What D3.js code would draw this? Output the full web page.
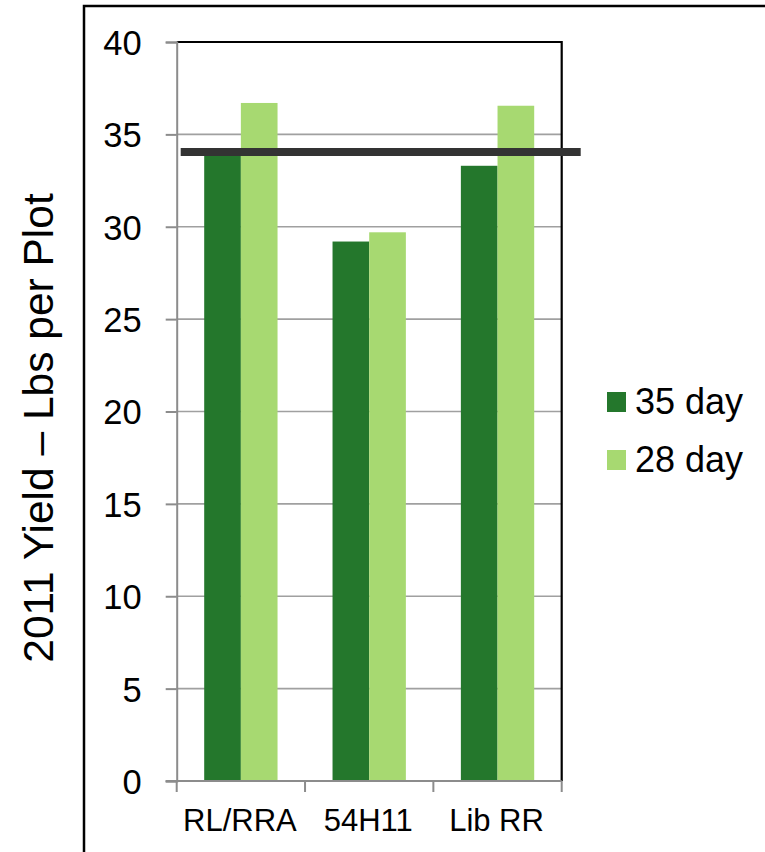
<!DOCTYPE html>
<html>
<head>
<meta charset="utf-8">
<script src="https://cdn.jsdelivr.net/npm/d3@7"></script>
<style>
  html, body { margin: 0; padding: 0; background: #fff; }
  svg { display: block; font-family: Arial, "Liberation Sans", sans-serif; }
</style>
</head>
<body>
<svg id="chart" width="765" height="852"></svg>
<script>
// Yield per plot by variety and harvest interval
const categories = ["RL/RRA", "54H11", "Lib RR"];
const seriesNames = ["35 day", "28 day"];
const values35 = [34.0, 29.2, 33.3];
const values28 = [36.7, 29.7, 36.55];
const targetYield = 34.05;
const yTicks = [0, 5, 10, 15, 20, 25, 30, 35, 40];
const yTitle = "2011 Yield – Lbs per Plot";

const colors = { "35 day": "#24772c", "28 day": "#a7d971" };
const rows = categories.map((c, i) => ({ category: c, "35 day": values35[i], "28 day": values28[i] }));

const svg = d3.select("#chart");
const plot = { left: 176.7, right: 561.7, top: 42, bottom: 781 };

// Outer frame
svg.append("rect")
  .attr("x", 84).attr("y", 6)
  .attr("width", 800).attr("height", 900)
  .attr("fill", "none").attr("stroke", "#000").attr("stroke-width", 2.5);

const x0 = d3.scaleBand().domain(categories).range([plot.left, plot.right]).paddingInner(0).paddingOuter(0);
const x1 = d3.scaleBand().domain(seriesNames).range([0, x0.bandwidth()]).paddingInner(0).paddingOuter(0.75);
const y = d3.scaleLinear().domain([0, 40]).range([plot.bottom, plot.top]);

// Horizontal gridlines
svg.append("g").selectAll("line")
  .data(yTicks.filter(t => t > 0 && t < 40))
  .join("line")
  .attr("x1", plot.left).attr("x2", plot.right)
  .attr("y1", d => y(d)).attr("y2", d => y(d))
  .attr("stroke", "#a0a0a0").attr("stroke-width", 1.6);

// Bars
const groups = svg.append("g").selectAll("g")
  .data(rows)
  .join("g")
  .attr("transform", d => `translate(${x0(d.category)},0)`);

groups.selectAll("rect")
  .data(d => seriesNames.map(s => ({ key: s, value: d[s] })))
  .join("rect")
  .attr("x", d => x1(d.key))
  .attr("width", x1.bandwidth())
  .attr("y", d => y(d.value))
  .attr("height", d => y(0) - y(d.value))
  .attr("fill", d => colors[d.key]);

// Plot frame: top and right edges
svg.append("path")
  .attr("d", `M${plot.left},${y(40)}H${plot.right}V${plot.bottom}`)
  .attr("fill", "none").attr("stroke", "#000").attr("stroke-width", 2.2);

// Y axis
const yAxis = svg.append("g")
  .attr("transform", `translate(${plot.left},0)`)
  .call(d3.axisLeft(y).tickValues(yTicks).tickSize(11).tickPadding(24).tickFormat(d3.format("d")));
yAxis.select(".domain").attr("stroke", "#8c8c8c").attr("stroke-width", 2);
yAxis.selectAll(".tick line").attr("stroke", "#8c8c8c").attr("stroke-width", 2);
yAxis.selectAll(".tick text")
  .attr("fill", "#000").attr("font-size", 34.5).attr("dy", "0.36em")
  .style("font-family", "Arial, 'Liberation Sans', sans-serif");

// X axis
const xAxisScale = d3.scaleLinear().domain([0, categories.length]).range([plot.left, plot.right]);
const xAxis = svg.append("g").attr("transform", `translate(0,${plot.bottom})`);
xAxis.append("line")
  .attr("x1", plot.left - 11).attr("x2", plot.right)
  .attr("stroke", "#8c8c8c").attr("stroke-width", 2);
xAxis.selectAll("line.tk")
  .data(d3.range(categories.length + 1))
  .join("line").attr("class", "tk")
  .attr("x1", d => xAxisScale(d)).attr("x2", d => xAxisScale(d))
  .attr("y1", 0).attr("y2", 11)
  .attr("stroke", "#8c8c8c").attr("stroke-width", 2);
xAxis.selectAll("text")
  .data(categories)
  .join("text")
  .attr("x", d => x0(d) + x0.bandwidth() / 2 - 1)
  .attr("y", 50)
  .attr("text-anchor", "middle")
  .attr("font-size", 31)
  .attr("fill", "#000")
  .text(d => d);

// Target yield line
svg.append("line")
  .attr("x1", plot.left + 4).attr("x2", plot.right + 19)
  .attr("y1", y(targetYield)).attr("y2", y(targetYield))
  .attr("stroke", "#333").attr("stroke-width", 8);

// Y axis title
svg.append("text")
  .attr("transform", `translate(53,428) rotate(-90)`)
  .attr("text-anchor", "middle")
  .attr("font-size", 42.5)
  .attr("fill", "#000")
  .text(yTitle);

// Legend
const legend = svg.append("g").selectAll("g")
  .data(seriesNames)
  .join("g")
  .attr("transform", (d, i) => `translate(607,${392 + i * 58})`);
legend.append("rect")
  .attr("width", 19).attr("height", 20)
  .attr("fill", d => colors[d]);
legend.append("text")
  .attr("x", 28).attr("y", 22)
  .attr("font-size", 36)
  .attr("fill", "#000")
  .text(d => d);
</script>
</body>
</html>
